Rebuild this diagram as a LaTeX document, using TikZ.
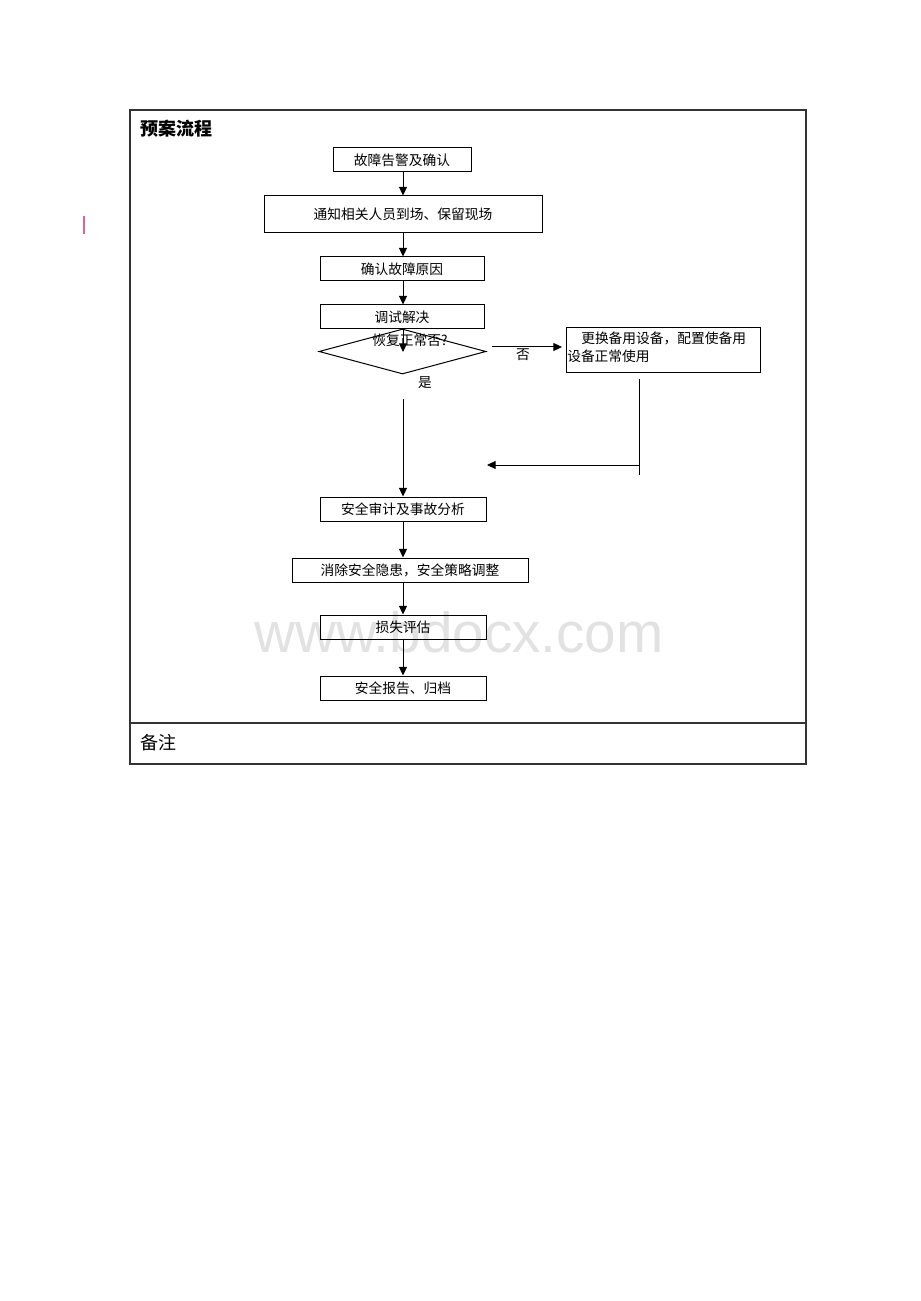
\documentclass[tikz,border=0pt]{standalone}
\usepackage{fontspec}
\usetikzlibrary{shapes.geometric,arrows.meta}
\newfontfamily\cjk{Noto Sans CJK SC}
\newfontfamily\wmfont{Liberation Sans}
\definecolor{wmgray}{HTML}{E2E2E2}
\definecolor{pinkmark}{HTML}{E0609A}
\begin{document}
\begin{tikzpicture}[x=0.75pt,y=-0.75pt,
  box/.style={draw,line width=0.75pt,inner sep=0pt,minimum height=18pt,font=\cjk\fontsize{10.3pt}{12pt}\selectfont},
  arr/.style={line width=0.75pt,-{Triangle[length=6.5pt,width=6pt]}},
  ln/.style={line width=0.75pt},
  lbl/.style={inner sep=0pt,font=\cjk\fontsize{10.3pt}{12pt}\selectfont}]
\useasboundingbox (0,0) rectangle (920,1301);
% watermark
\node[text=wmgray,inner sep=0pt,font=\wmfont\fontsize{42.5pt}{48pt}\selectfont] (wm) at (459,632) {www.bdocx.com};
% frame
\draw[line width=0.8pt,black!80] (130,110) rectangle (806,764);
\draw[line width=0.8pt,black!80] (130,723) -- (806,723);
\node[anchor=west,inner sep=0pt,font=\cjk\bfseries\fontsize{13.5pt}{15pt}\selectfont] (title) at (140,129) {预案流程};
\node[anchor=west,inner sep=0pt,font=\cjk\fontsize{13.5pt}{15pt}\selectfont] (note) at (140,743) {备注};
\draw[pinkmark,line width=1.1pt] (84,216) -- (84,234);
% boxes
\node[box,minimum width=103.5pt] (b1) at (402,160) {故障告警及确认};
\node[box,minimum width=208.5pt,minimum height=27.75pt] (b2) at (403,214.5) {通知相关人员到场、保留现场};
\node[box,minimum width=123pt] (b3) at (402,269) {确认故障原因};
\node[box,minimum width=123pt] (b4) at (402,317) {调试解决};
\node[draw,diamond,line width=0.75pt,inner sep=0pt,minimum width=125.25pt,minimum height=33.75pt] (d) at (402.5,351.5) {};
\node[lbl] (dt) at (410,340) {恢复正常否?};
\node[draw,line width=0.75pt,minimum width=145.5pt,minimum height=33.75pt] (b5) at (663,350.5) {};
\node[lbl,anchor=west,align=left,font=\cjk\fontsize{10.3pt}{13.5pt}\selectfont] (b5t) at (567,347) {\hspace{10.5pt}更换备用设备，配置使备用\\设备正常使用};
\node[box,minimum width=124.5pt] (b6) at (403,509) {安全审计及事故分析};
\node[box,minimum width=177pt] (b7) at (410,570) {消除安全隐患，安全策略调整};
\node[box,minimum width=124.5pt] (b8) at (403,627) {损失评估};
\node[box,minimum width=124.5pt] (b9) at (403,688) {安全报告、归档};
\node[lbl] (no) at (523,355) {否};
\node[lbl] (yes) at (425,383) {是};
% coordinates
\coordinate (d1) at (403,352);
\coordinate (n1) at (492,347);
\coordinate (n2) at (562,347);
\coordinate (y1) at (403,399);
\coordinate (r1) at (639,379);
\coordinate (r2) at (639,475);
\coordinate (r3) at (639,465);
\coordinate (r4) at (487,465);
% connectors
\draw[arr] (b1.south -| 403,0) -- (b2.north -| 403,0);
\draw[arr] (b2.south -| 403,0) -- (b3.north -| 403,0);
\draw[arr] (b3.south -| 403,0) -- (b4.north -| 403,0);
\draw[arr] (b4.south -| 403,0) -- (d1);
\draw[arr] (n1) -- (n2);
\draw[arr] (y1) -- (b6.north);
\draw[ln] (r1) -- (r2);
\draw[arr] (r3) -- (r4);
\draw[arr] (b6.south) -- (b6.south |- b7.north);
\draw[arr] (b8.north |- b7.south) -- (b8.north);
\draw[arr] (b8.south) -- (b9.north);
\end{tikzpicture}
\end{document}
